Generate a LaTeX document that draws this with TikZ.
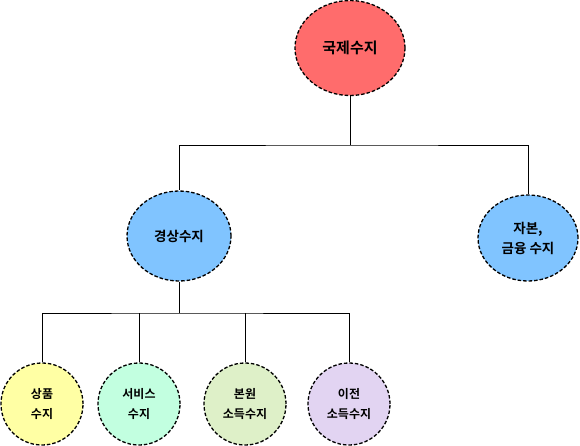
\documentclass[tikz,border=0pt]{standalone}
\usepackage{fontspec}
\newfontfamily\kr{Noto Sans CJK KR}[BoldFont={Noto Sans CJK KR Bold}]
\usetikzlibrary{shapes.geometric}
\definecolor{bopred}{RGB}{255,108,108}
\definecolor{bopblue}{RGB}{128,196,255}
\definecolor{bopyel}{RGB}{255,255,164}
\definecolor{bopmint}{RGB}{194,255,224}
\definecolor{bopgrn}{RGB}{222,240,200}
\definecolor{boplav}{RGB}{226,212,242}
\begin{document}
\begin{tikzpicture}[x=1pt,y=-1pt,
    acc/.style={ellipse,draw,dash pattern=on 3.5pt off 2pt,line width=1.3pt,inner sep=0pt,align=center},
    l0/.style={acc,minimum width=110pt,minimum height=95pt,font=\kr\bfseries\fontsize{15}{18}\selectfont},
    l1/.style={acc,minimum width=104pt,minimum height=90pt,font=\kr\bfseries\fontsize{13.5}{20}\selectfont},
    l2/.style={acc,minimum width=82pt,minimum height=82pt,font=\kr\bfseries\fontsize{12}{20}\selectfont}]
  \useasboundingbox (0,0) rectangle (580,445);
  % top
  \node[l0,fill=bopred] (bop) at (350,48) {국제수지};
  % current / capital account
  \node[l1,fill=bopblue] (cur) at (179,236) {경상수지};
  \node[l1,fill=bopblue,minimum width=100pt,minimum height=86pt] (cap) at (528,238) {자본,\\금융 수지};
  % items of the current account
  \node[l2,fill=bopyel] (goods) at (42,404) {상품\\수지};
  \node[l2,fill=bopmint] (svc) at (139,404) {서비스\\수지};
  \node[l2,fill=bopgrn] (prim) at (245,404) {본원\\소득수지};
  \node[l2,fill=boplav] (sec) at (349,404) {이전\\소득수지};
  \coordinate (busA) at (350,145);
  \coordinate (busB) at (179,313);
  \draw[line width=1pt] (bop.south) -- (busA);
  \draw[line width=1pt] (cur.north) |- (busA) -| (cap.north);
  \draw[line width=1pt] (cur.south) -- (busB);
  \draw[line width=1pt] (goods.north) |- (busB) -| (sec.north);
  \foreach \n in {svc,prim}
    \draw[line width=1pt] (\n.north) -- (\n.north |- busB);
\end{tikzpicture}
\end{document}
